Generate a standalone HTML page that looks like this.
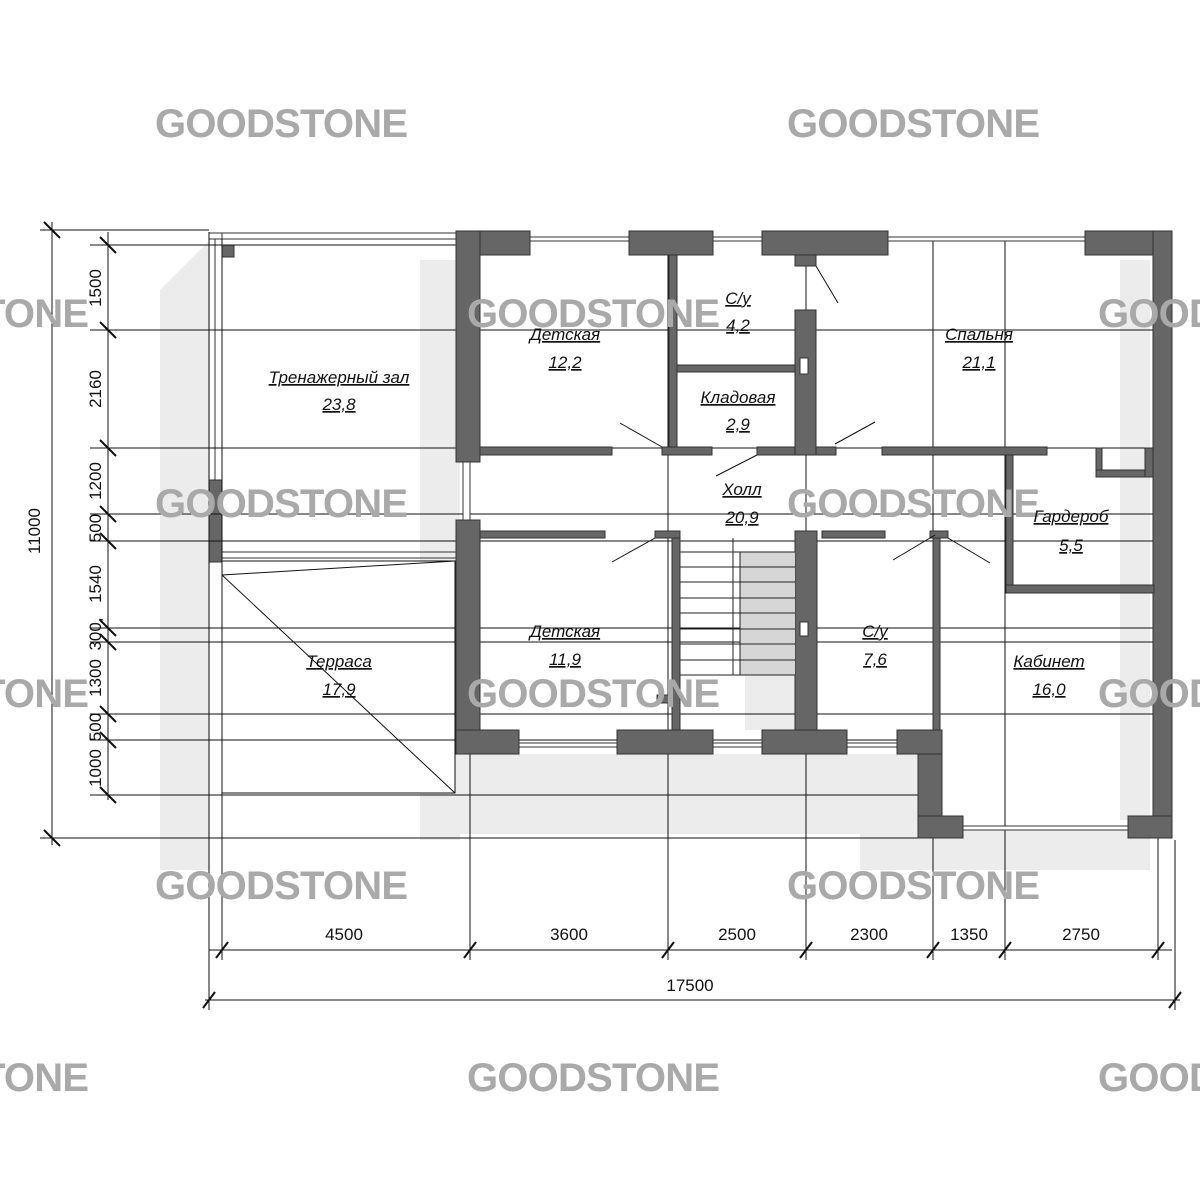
<!DOCTYPE html>
<html><head><meta charset="utf-8"><style>
html,body{margin:0;padding:0;background:#fff;}
svg{display:block}
.w{fill:#666;stroke:#333;stroke-width:1}
.g{stroke:#111;stroke-width:1;fill:none}
.t{font-family:"Liberation Sans",sans-serif;font-style:italic;font-size:17px;fill:#111;text-anchor:middle}
.d{font-family:"Liberation Sans",sans-serif;font-size:17px;fill:#111;text-anchor:middle}
.wm{font-family:"Liberation Sans",sans-serif;font-weight:bold;font-size:40px;fill:#a9a9a9}
</style></head><body>
<svg width="1200" height="1200" viewBox="0 0 1200 1200" xmlns="http://www.w3.org/2000/svg">
<g fill="#ececec">
<path d="M160 290 L210 240 L210 870 L160 870 Z"/>
<rect x="456" y="754" width="462" height="80"/>
<rect x="860" y="830" width="290" height="40"/>
<rect x="420" y="260" width="40" height="580"/>
<rect x="745" y="560" width="50" height="170"/>
<rect x="1120" y="260" width="30" height="560"/>
</g>
<rect x="222" y="561" width="233" height="232" fill="#fff"/>
<g stroke="#333" fill="none" stroke-width="1">
<rect x="209" y="233" width="247" height="6"/>
<rect x="209" y="233" width="13" height="247"/>
<line x1="215" y1="239" x2="215" y2="480"/>
<rect x="222" y="552" width="234" height="6"/>
<line x1="222" y1="245" x2="456" y2="245"/>
</g>
<rect x="222" y="245" width="12" height="12" class="w"/>
<rect x="209" y="480" width="13" height="82" class="w"/>
<g class="g">
<rect x="222" y="561" width="233" height="232"/>
<line x1="222" y1="575" x2="455" y2="561"/>
<line x1="222" y1="575" x2="455" y2="793"/>
</g>
<g stroke="#111" stroke-width="1">
<line x1="90" y1="245" x2="456" y2="245"/>
<line x1="90" y1="330" x2="1172" y2="330"/>
<line x1="90" y1="448" x2="1172" y2="448"/>
<line x1="90" y1="514" x2="1172" y2="514"/>
<line x1="90" y1="541" x2="1172" y2="541"/>
<line x1="90" y1="628" x2="1172" y2="628"/>
<line x1="90" y1="642" x2="1172" y2="642"/>
<line x1="90" y1="714" x2="1172" y2="714"/>
<line x1="90" y1="740" x2="918" y2="740"/>
<line x1="90" y1="795" x2="918" y2="795"/>
<line x1="40" y1="230" x2="209" y2="230"/>
<line x1="40" y1="838" x2="918" y2="838"/>
<line x1="108" y1="232" x2="108" y2="800"/>
<line x1="52" y1="222" x2="52" y2="845"/>
<line x1="209" y1="232" x2="209" y2="1010"/>
<line x1="222" y1="239" x2="222" y2="960"/>
<line x1="470" y1="240" x2="470" y2="960"/>
<line x1="668" y1="240" x2="668" y2="960"/>
<line x1="806" y1="240" x2="806" y2="960"/>
<line x1="933" y1="240" x2="933" y2="960"/>
<line x1="1005" y1="240" x2="1005" y2="960"/>
<line x1="1158" y1="240" x2="1158" y2="960"/>
<line x1="1175" y1="840" x2="1175" y2="1010"/>
<line x1="209" y1="950" x2="1172" y2="950"/>
<line x1="205" y1="1000" x2="1180" y2="1000"/>
</g>
<g stroke="#111" stroke-width="2">
<line x1="44" y1="222" x2="60" y2="238"/><line x1="44" y1="830" x2="60" y2="846"/>
<line x1="100" y1="237" x2="116" y2="253"/><line x1="100" y1="322" x2="116" y2="338"/>
<line x1="100" y1="440" x2="116" y2="456"/><line x1="100" y1="506" x2="116" y2="522"/>
<line x1="100" y1="533" x2="116" y2="549"/><line x1="100" y1="620" x2="116" y2="636"/>
<line x1="100" y1="634" x2="116" y2="650"/><line x1="100" y1="706" x2="116" y2="722"/>
<line x1="100" y1="732" x2="116" y2="748"/><line x1="100" y1="787" x2="116" y2="803"/>
<line x1="216" y1="958" x2="228" y2="942"/><line x1="464" y1="958" x2="476" y2="942"/>
<line x1="662" y1="958" x2="674" y2="942"/><line x1="800" y1="958" x2="812" y2="942"/>
<line x1="927" y1="958" x2="939" y2="942"/><line x1="999" y1="958" x2="1011" y2="942"/>
<line x1="1152" y1="958" x2="1164" y2="942"/>
<line x1="203" y1="1008" x2="215" y2="992"/><line x1="1169" y1="1008" x2="1181" y2="992"/>
</g>
<g class="w">
<rect x="456" y="231" width="74" height="24"/>
<rect x="629" y="231" width="84" height="24"/>
<rect x="762" y="231" width="126" height="24"/>
<rect x="1085" y="231" width="87" height="24"/>
<rect x="1153" y="231" width="19" height="607"/>
<rect x="456" y="231" width="24" height="231"/>
<rect x="456" y="520" width="24" height="234"/>
<rect x="456" y="730" width="63" height="24"/>
<rect x="617" y="730" width="96" height="24"/>
<rect x="762" y="730" width="85" height="24"/>
<rect x="897" y="730" width="45" height="24"/>
<rect x="918" y="754" width="24" height="84"/>
<rect x="918" y="816" width="45" height="22"/>
<rect x="1128" y="816" width="44" height="22"/>
<rect x="669" y="255" width="8" height="199"/>
<rect x="677" y="365" width="118" height="7"/>
<rect x="795" y="255" width="21" height="11"/>
<rect x="795" y="310" width="21" height="145"/>
<rect x="480" y="447" width="132" height="8"/>
<rect x="662" y="447" width="50" height="8"/>
<rect x="757" y="447" width="38" height="8"/>
<rect x="816" y="447" width="20" height="8"/>
<rect x="882" y="447" width="165" height="8"/>
<rect x="1006" y="455" width="7" height="138"/>
<rect x="1006" y="585" width="148" height="8"/>
<rect x="1096" y="448" width="6" height="29"/>
<rect x="1096" y="470" width="57" height="7"/>
<rect x="1145" y="448" width="8" height="29"/>
<rect x="480" y="531" width="125" height="7"/>
<rect x="655" y="531" width="25" height="7"/>
<rect x="672" y="538" width="8" height="192"/>
<rect x="795" y="531" width="22" height="199"/>
<rect x="822" y="531" width="63" height="7"/>
<rect x="930" y="531" width="18" height="7"/>
<rect x="933" y="538" width="7" height="192"/>
<rect x="657" y="695" width="15" height="8"/>
</g>
<g stroke="#333" fill="#fff" stroke-width="1">
<rect x="530" y="237" width="99" height="4"/><rect x="713" y="237" width="49" height="4"/>
<rect x="888" y="237" width="197" height="4"/><rect x="519" y="743" width="98" height="4"/>
<rect x="713" y="743" width="49" height="4"/><rect x="847" y="743" width="50" height="4"/>
<rect x="963" y="826" width="165" height="4"/><rect x="463" y="462" width="7" height="58"/>
<rect x="800" y="358" width="8" height="16"/><rect x="800" y="622" width="8" height="14"/>
</g>
<g stroke="#222" stroke-width="1">
<rect x="740" y="552" width="55" height="123" fill="#d6d6d6" stroke="none"/>
<line x1="733" y1="538" x2="733" y2="675"/><line x1="740" y1="552" x2="740" y2="675"/>
<line x1="680" y1="552" x2="795" y2="552"/><line x1="680" y1="567" x2="795" y2="567"/>
<line x1="680" y1="582" x2="795" y2="582"/><line x1="680" y1="598" x2="795" y2="598"/>
<line x1="680" y1="613" x2="795" y2="613"/><line x1="680" y1="629" x2="795" y2="629"/>
<line x1="680" y1="644" x2="795" y2="644"/><line x1="680" y1="660" x2="795" y2="660"/>
<line x1="680" y1="675" x2="795" y2="675"/>
</g>
<g stroke="#111" stroke-width="1">
<line x1="620" y1="423" x2="662" y2="447"/><line x1="838" y1="303" x2="816" y2="266"/>
<line x1="716" y1="476" x2="757" y2="455"/><line x1="835" y1="444" x2="875" y2="422"/>
<line x1="612" y1="562" x2="655" y2="538"/><line x1="893" y1="560" x2="935" y2="535"/>
<line x1="990" y1="563" x2="948" y2="538"/>
</g>
<g class="wm">
<text x="155" y="137" textLength="253">GOODSTONE</text>
<text x="787" y="137" textLength="253">GOODSTONE</text>
<text x="-164" y="327" textLength="253">GOODSTONE</text>
<text x="467" y="327" textLength="253">GOODSTONE</text>
<text x="1098" y="327" textLength="253">GOODSTONE</text>
<text x="155" y="517" textLength="253">GOODSTONE</text>
<text x="787" y="517" textLength="253">GOODSTONE</text>
<text x="-164" y="707" textLength="253">GOODSTONE</text>
<text x="467" y="707" textLength="253">GOODSTONE</text>
<text x="1098" y="707" textLength="253">GOODSTONE</text>
<text x="155" y="899" textLength="253">GOODSTONE</text>
<text x="787" y="899" textLength="253">GOODSTONE</text>
<text x="-164" y="1091" textLength="253">GOODSTONE</text>
<text x="467" y="1091" textLength="253">GOODSTONE</text>
<text x="1098" y="1091" textLength="253">GOODSTONE</text>
</g>
<g class="t" text-decoration="underline">
<text x="339" y="383">Тренажерный зал</text><text x="339" y="410">23,8</text>
<text x="565" y="340">Детская</text><text x="565" y="368">12,2</text>
<text x="738" y="304">С/у</text><text x="738" y="331">4,2</text>
<text x="738" y="403">Кладовая</text><text x="738" y="430">2,9</text>
<text x="979" y="340">Спальня</text><text x="979" y="368">21,1</text>
<text x="742" y="495">Холл</text><text x="742" y="523">20,9</text>
<text x="1071" y="522">Гардероб</text><text x="1071" y="551">5,5</text>
<text x="565" y="637">Детская</text><text x="565" y="665">11,9</text>
<text x="875" y="637">С/у</text><text x="875" y="665">7,6</text>
<text x="1049" y="667">Кабинет</text><text x="1049" y="695">16,0</text>
<text x="339" y="667">Терраса</text><text x="339" y="695">17,9</text>
</g>
<g class="d">
<text x="344" y="940">4500</text><text x="569" y="940">3600</text>
<text x="737" y="940">2500</text><text x="869" y="940">2300</text>
<text x="969" y="940">1350</text><text x="1081" y="940">2750</text>
<text x="690" y="991">17500</text>
<text transform="translate(101,288) rotate(-90)">1500</text>
<text transform="translate(101,389) rotate(-90)">2160</text>
<text transform="translate(101,481) rotate(-90)">1200</text>
<text transform="translate(101,528) rotate(-90)">500</text>
<text transform="translate(101,584) rotate(-90)">1540</text>
<text transform="translate(101,634) rotate(-90)">300,</text>
<text transform="translate(101,678) rotate(-90)">1300</text>
<text transform="translate(101,727) rotate(-90)">500</text>
<text transform="translate(101,768) rotate(-90)">1000</text>
<text transform="translate(40,531) rotate(-90)">11000</text>
</g>
</svg>
</body></html>
